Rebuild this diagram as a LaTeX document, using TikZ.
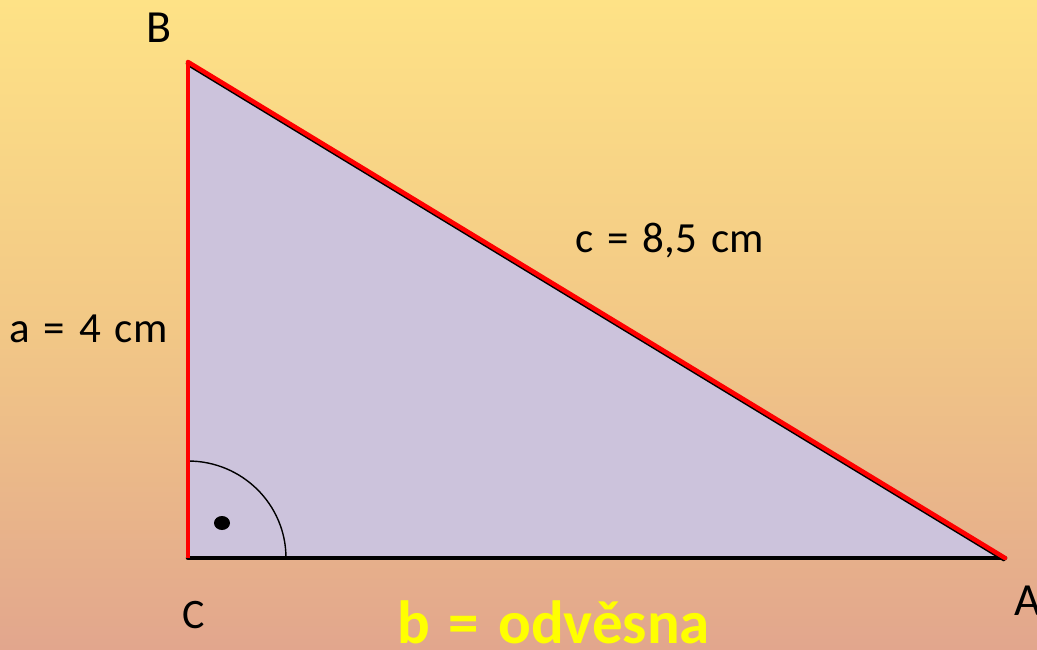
\documentclass[tikz,border=0pt]{standalone}
\usepackage{fontspec}
\setmainfont{Carlito}
\begin{document}
\begin{tikzpicture}[x=1pt,y=-1pt,
  lbl/.style={inner sep=0pt,anchor=base west,font=\fontsize{43}{45}\selectfont,execute at begin node={\spaceskip=14pt\relax}},
  vtx/.style={inner sep=0pt,anchor=base west,font=\fontsize{46}{48}\selectfont},
  redside/.style={draw=red,line width=4.5pt,line cap=round},
  blackside/.style={draw=black,line width=4.5pt,line cap=round}]
\useasboundingbox (0,0) rectangle (1037,649);
\shade[top color={rgb,255:red,254;green,226;blue,134},bottom color={rgb,255:red,226;green,166;blue,141},middle color={rgb,255:red,242;green,200;blue,134}] (0,0) rectangle (1037,649);
\coordinate (C) at (188,558);
\coordinate (B) at (188,62);
\coordinate (A) at (1005,558);
\fill[fill={rgb,255:red,204;green,195;blue,220}] (C) -- (B) -- (A) -- cycle;
% right angle mark
\draw[line width=1.4pt] (188,461) arc[start angle=90,end angle=0,x radius=98pt,y radius=97pt];
\fill (222,523) ellipse[x radius=8,y radius=7];
% sides
\draw[blackside] (C) -- (A);
\draw[draw=black,line width=3pt,line cap=round] ([shift={(-1,2)}]B) -- ([shift={(-1,2)}]A);
\draw[redside] (B) -- (A);
\draw[redside,line cap=butt] (C) -- (B);
% labels
\node[vtx] (lB) at (146,42) {B};
\node[vtx,font=\fontsize{42}{44}\selectfont] (lC) at (182,628) {C};
\node[vtx] (lA) at (1014,615) {A};
\node[lbl] (la) at (9,342) {a = 4 cm};
\node[lbl] (lc) at (575,252) {c = 8,5 cm};
\node[inner sep=0pt,anchor=base west,text={rgb,255:red,255;green,255;blue,0},font=\fontsize{61}{63}\selectfont\bfseries,execute at begin node={\spaceskip=19pt\relax}] (lb) at (397,643) {b = odvěsna};
\end{tikzpicture}
\end{document}
